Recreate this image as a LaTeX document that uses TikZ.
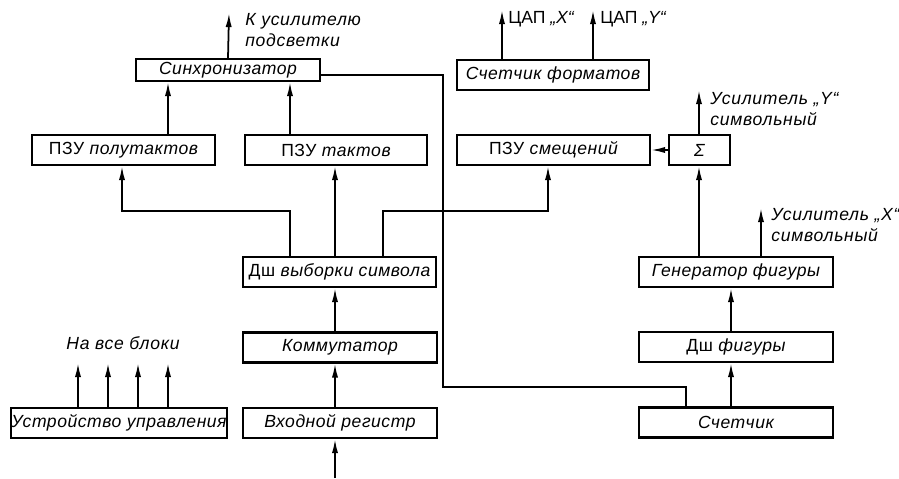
\documentclass[tikz,border=0pt]{standalone}
\usepackage{fontspec}
\setmainfont{Liberation Sans}
\usetikzlibrary{arrows.meta}

\tikzset{
  blk/.style={draw, line width=1.2pt, minimum height=0.6cm, inner sep=0pt,
    font=\fontsize{10}{12}\selectfont\addfontfeatures{LetterSpace=3}},
  arr/.style={line width=1pt, -{Latex[length=8pt,width=3.5pt]}},
  wire/.style={line width=1pt},
  lbl/.style={inner sep=0pt, align=left, anchor=north west,
    font=\fontsize{10}{12}\selectfont\itshape\addfontfeatures{LetterSpace=4}}
}

\begin{document}
\begin{tikzpicture}[x=0.02cm, y=-0.02cm]
  \useasboundingbox (0,0) rectangle (899,478);

  % blocks, left part
  \node[blk, minimum width=3.68cm, minimum height=0.44cm] (sync) at (228,70) {\itshape Синхронизатор};
  \node[blk, minimum width=3.66cm] (pzuhalf) at (123.5,150) {ПЗУ \itshape полутактов};
  \node[blk, minimum width=3.64cm] (pzutakt) at (336,150) {ПЗУ \itshape тактов};
  \node[blk, minimum width=3.86cm] (dsh) at (339.5,272) {Дш \itshape выборки символа};
  \node[blk, minimum width=3.88cm] (komm) at (340,347.5) {\itshape Коммутатор};
  \node[blk, minimum width=3.88cm] (vxreg) at (340,423) {\itshape Входной регистр};
  \node[blk, minimum width=4.32cm] (ctrl) at (119,423) {\itshape Устройство управления};

  % blocks, right part
  \node[blk, minimum width=3.84cm] (fmt) at (553,75) {\itshape Счетчик форматов};
  \node[blk, minimum width=3.86cm] (pzushift) at (553.5,150) {ПЗУ \itshape смещений};
  \node[blk, minimum width=1.22cm] (sigma) at (699.5,150) {\itshape Σ};
  \node[blk, minimum width=3.88cm] (gen) at (736,272) {\itshape Генератор фигуры};
  \node[blk, minimum width=3.88cm] (dshfig) at (736,347) {Дш \itshape фигуры};
  \node[blk, minimum width=3.88cm] (cnt) at (736,422.5) {\itshape Счетчик};

  % x positions of the vertical lines
  \coordinate (xa) at (168,0);
  \coordinate (xb) at (290,0);
  \coordinate (xc) at (122,0);
  \coordinate (xe) at (335,0);
  \coordinate (xf) at (383,0);
  \coordinate (xg) at (548,0);
  \coordinate (xh) at (443,0);
  \coordinate (xi) at (686,0);
  \coordinate (xj) at (502,0);
  \coordinate (xk) at (593,0);
  \coordinate (xl) at (699,0);
  \coordinate (xm) at (761,0);
  \coordinate (xn) at (731,0);
  % free ends and bends
  \coordinate (lamp) at (229,13);
  \coordinate (ybus) at (0,211);
  \coordinate (yfb) at (0,387);
  \coordinate (dacx) at (502,10);
  \coordinate (dacy) at (593,10);
  \coordinate (ampy) at (699,90);
  \coordinate (ampx) at (761,208);
  \coordinate (inp) at (335,478);
  \coordinate (syncout) at ([yshift=-0.1cm]sync.east);

  % outputs
  \draw[arr] (sync.north) -- (lamp);
  \draw[arr] (xj |- fmt.north) -- (dacx);
  \draw[arr] (xk |- fmt.north) -- (dacy);
  \draw[arr] (xl |- sigma.north) -- (ampy);
  \draw[arr] (xm |- gen.north) -- (ampx);
  \foreach \x in {78,108,138,168}
    \draw[arr] (\x,0 |- ctrl.north) -- (\x,363);

  % left chain
  \draw[arr] (inp) -- (xe |- vxreg.south);
  \draw[arr] (xe |- vxreg.north) -- (xe |- komm.south);
  \draw[arr] (xe |- komm.north) -- (xe |- dsh.south);
  \draw[arr] (xe |- dsh.north) -- (xe |- pzutakt.south);
  \draw[arr] (xb |- dsh.north) -- (xb |- ybus) -- (xc |- ybus) -- (xc |- pzuhalf.south);
  \draw[arr] (xf |- dsh.north) -- (xf |- ybus) -- (xg |- ybus) -- (xg |- pzushift.south);
  \draw[arr] (xa |- pzuhalf.north) -- (xa |- sync.south);
  \draw[arr] (xb |- pzutakt.north) -- (xb |- sync.south);
  \draw[wire] (syncout) -- (xh |- syncout)
    -- (xh |- yfb) -- (xi |- yfb) -- (xi |- cnt.north);

  % right chain
  \draw[arr] (xn |- cnt.north) -- (xn |- dshfig.south);
  \draw[arr] (xn |- dshfig.north) -- (xn |- gen.south);
  \draw[arr] (xl |- gen.north) -- (xl |- sigma.south);
  \draw[arr] (sigma.west) -- (pzushift.east);

  % labels
  \node[lbl] (tlamp) at (245,13) {К усилителю\\подсветки};
  \node[lbl, font=\fontsize{10}{12}\selectfont] (tdacx) at (508,11) {ЦАП \itshape „X“};
  \node[lbl, font=\fontsize{10}{12}\selectfont] (tdacy) at (600,11) {ЦАП \itshape „Y“};
  \node[lbl] (tampy) at (710,92) {Усилитель „Y“\\символьный};
  \node[lbl] (tampx) at (771,208) {Усилитель „X“\\символьный};
  \node[lbl, anchor=center] (tall) at (123,343) {На все блоки};
\end{tikzpicture}
\end{document}
